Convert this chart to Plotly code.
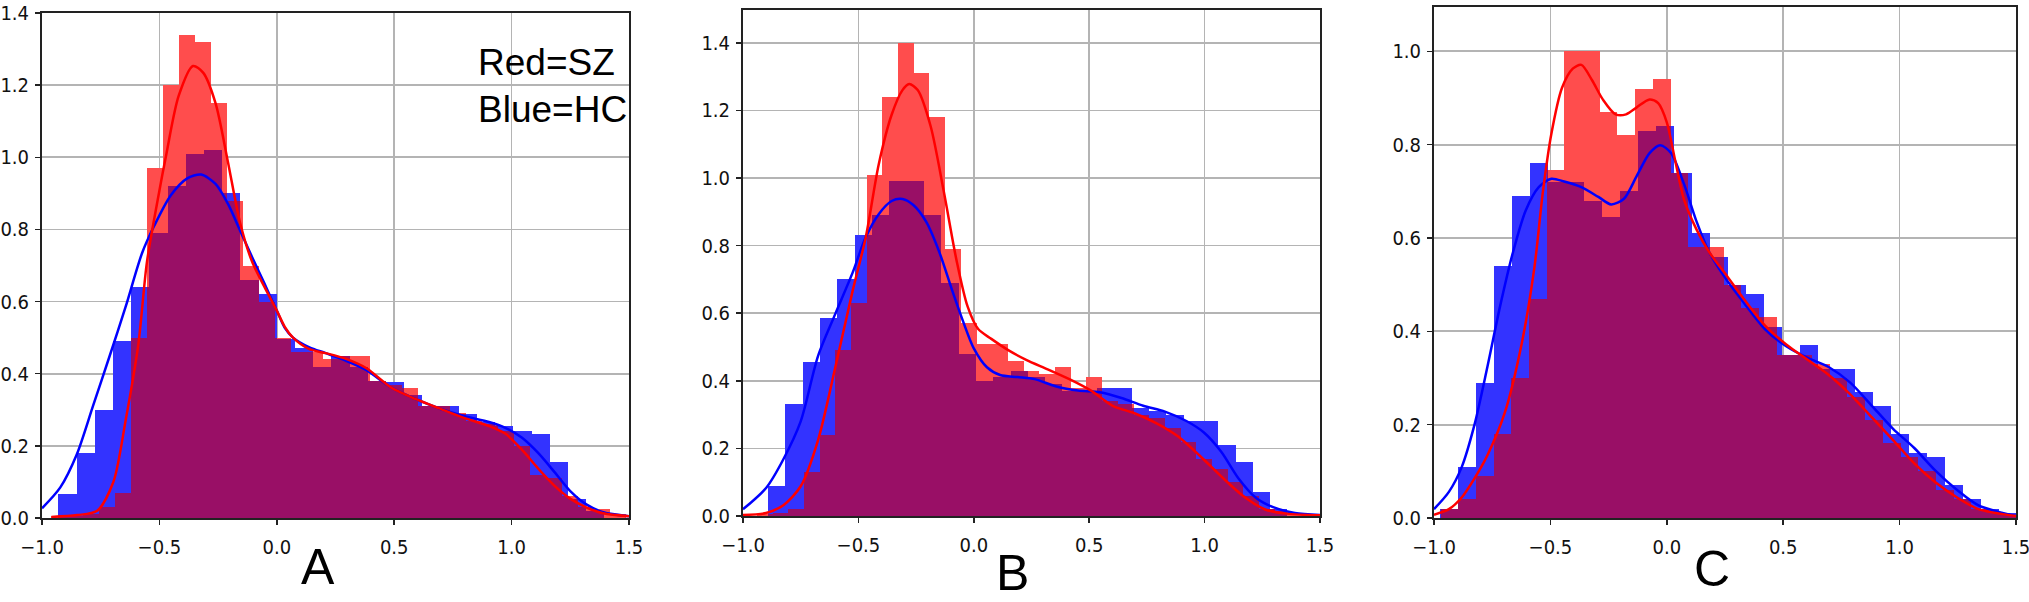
import plotly.graph_objects as go

# ---------------- DATA ----------------
# Panel A
A_blue_edge0, A_blue_binw = -0.93, 0.0775
A_blue_hist = [0.066, 0.18, 0.30, 0.49, 0.64, 0.79, 0.92, 1.01, 1.02, 0.90,
               0.66, 0.62, 0.495, 0.47, 0.42, 0.45, 0.42, 0.38, 0.377, 0.34,
               0.31, 0.31, 0.287, 0.266, 0.255, 0.24, 0.234, 0.154, 0.053, 0.02]
A_red_edge0, A_red_binw = -0.961, 0.068
A_red_hist = [0.005, 0.005, 0.01, 0.03, 0.07, 0.50, 0.97, 1.20, 1.34, 1.32,
              1.15, 0.88, 0.70, 0.60, 0.50, 0.46, 0.46, 0.44, 0.45, 0.45,
              0.38, 0.37, 0.36, 0.31, 0.31, 0.29, 0.27, 0.26, 0.24, 0.20,
              0.12, 0.11, 0.06, 0.03, 0.025, 0.01]
A_kde_blue_x = [-1.0, -0.922, -0.852, -0.783, -0.713, -0.644, -0.574, -0.522, -0.452, -0.383,
                -0.322, -0.261, -0.209, -0.157, -0.105, -0.052, 0.0, 0.034, 0.069, 0.139,
                0.208, 0.295, 0.382, 0.486, 0.59, 0.695, 0.8, 0.904, 0.973, 1.043,
                1.112, 1.182, 1.251, 1.32, 1.39, 1.5]
A_kde_blue_y = [0.027, 0.085, 0.176, 0.31, 0.447, 0.585, 0.734, 0.81, 0.894, 0.941,
                0.952, 0.926, 0.872, 0.798, 0.723, 0.649, 0.575, 0.527, 0.5, 0.473,
                0.457, 0.436, 0.41, 0.362, 0.33, 0.303, 0.282, 0.266, 0.25, 0.223,
                0.181, 0.128, 0.074, 0.037, 0.016, 0.005]
A_kde_red_x = [-0.96, -0.85, -0.765, -0.696, -0.644, -0.59, -0.553, -0.505, -0.47, -0.418,
               -0.357, -0.313, -0.261, -0.209, -0.157, -0.105, -0.052, 0.0, 0.034, 0.069,
               0.139, 0.208, 0.295, 0.382, 0.486, 0.59, 0.695, 0.8, 0.904, 0.973,
               1.043, 1.112, 1.182, 1.251, 1.32, 1.39, 1.5]
A_kde_red_y = [0.003, 0.008, 0.02, 0.10, 0.27, 0.48, 0.71, 0.89, 1.01, 1.17,
               1.253, 1.234, 1.15, 0.99, 0.82, 0.71, 0.64, 0.575, 0.53, 0.50,
               0.468, 0.457, 0.441, 0.415, 0.362, 0.33, 0.303, 0.277, 0.255, 0.234,
               0.19, 0.138, 0.09, 0.053, 0.029, 0.013, 0.005]

# Panel B
B_blue_edge0, B_blue_binw = -0.891, 0.075
B_blue_hist = [0.09, 0.33, 0.456, 0.587, 0.70, 0.83, 0.89, 0.99, 0.99, 0.89,
               0.69, 0.48, 0.40, 0.41, 0.43, 0.41, 0.39, 0.37, 0.37, 0.38,
               0.38, 0.32, 0.31, 0.30, 0.28, 0.28, 0.21, 0.16, 0.07, 0.02]
B_red_edge0, B_red_binw = -0.94, 0.068
B_red_hist = [0.005, 0.01, 0.02, 0.13, 0.24, 0.49, 0.63, 1.01, 1.24, 1.40,
              1.31, 1.18, 0.79, 0.57, 0.51, 0.51, 0.46, 0.43, 0.42, 0.44,
              0.38, 0.41, 0.34, 0.33, 0.30, 0.29, 0.26, 0.22, 0.17, 0.14,
              0.10, 0.06, 0.02, 0.015, 0.005]
B_kde_blue_x = [-1.0, -0.9, -0.825, -0.75, -0.675, -0.6, -0.525, -0.468, -0.412, -0.356,
                -0.309, -0.262, -0.206, -0.149, -0.093, -0.046, 0.0, 0.057, 0.114, 0.189,
                0.264, 0.358, 0.452, 0.546, 0.64, 0.734, 0.828, 0.921, 0.997, 1.072,
                1.147, 1.222, 1.297, 1.391, 1.5]
B_kde_blue_y = [0.02, 0.083, 0.168, 0.28, 0.473, 0.598, 0.72, 0.825, 0.893, 0.932,
                0.938, 0.92, 0.87, 0.78, 0.666, 0.575, 0.496, 0.44, 0.417, 0.411,
                0.405, 0.383, 0.371, 0.366, 0.349, 0.326, 0.309, 0.281, 0.247, 0.19,
                0.111, 0.054, 0.026, 0.009, 0.003]
B_kde_red_x = [-1.0, -0.9, -0.825, -0.75, -0.675, -0.6, -0.525, -0.468, -0.412, -0.356,
               -0.309, -0.28, -0.243, -0.187, -0.13, -0.075, -0.027, 0.019, 0.076, 0.151,
               0.227, 0.32, 0.414, 0.508, 0.602, 0.696, 0.79, 0.884, 0.978, 1.072,
               1.166, 1.26, 1.354, 1.5]
B_kde_red_y = [0.003, 0.009, 0.032, 0.088, 0.224, 0.44, 0.666, 0.825, 1.04, 1.187,
               1.26, 1.278, 1.26, 1.153, 0.96, 0.757, 0.62, 0.553, 0.524, 0.49,
               0.462, 0.434, 0.405, 0.371, 0.326, 0.304, 0.275, 0.236, 0.179, 0.117,
               0.06, 0.02, 0.007, 0.002]

# Panel C
C_blue_edge0, C_blue_binw = -0.976, 0.0775
C_blue_hist = [0.02, 0.11, 0.29, 0.54, 0.69, 0.76, 0.72, 0.72, 0.68, 0.645,
               0.70, 0.83, 0.84, 0.74, 0.61, 0.56, 0.50, 0.48, 0.41, 0.35,
               0.37, 0.32, 0.32, 0.27, 0.24, 0.18, 0.14, 0.13, 0.07, 0.04,
               0.02, 0.01]
C_red_edge0, C_red_binw = -0.972, 0.076
C_red_hist = [0.02, 0.04, 0.09, 0.18, 0.30, 0.47, 0.745, 1.00, 1.00, 0.87,
              0.82, 0.92, 0.94, 0.74, 0.58, 0.58, 0.50, 0.45, 0.43, 0.35,
              0.35, 0.33, 0.30, 0.26, 0.21, 0.16, 0.13, 0.10, 0.06, 0.04,
              0.02, 0.01, 0.005]
C_kde_blue_x = [-1.0, -0.936, -0.881, -0.826, -0.771, -0.716, -0.661, -0.606, -0.55, -0.496,
                -0.441, -0.367, -0.294, -0.239, -0.184, -0.129, -0.074, -0.028, 0.018, 0.073,
                0.128, 0.183, 0.256, 0.33, 0.421, 0.513, 0.605, 0.697, 0.788, 0.88,
                0.972, 1.063, 1.155, 1.247, 1.339, 1.5]
C_kde_blue_y = [0.019, 0.056, 0.109, 0.2, 0.323, 0.454, 0.569, 0.659, 0.709, 0.727,
                0.721, 0.709, 0.688, 0.672, 0.684, 0.733, 0.782, 0.799, 0.782, 0.717,
                0.635, 0.569, 0.511, 0.462, 0.405, 0.368, 0.343, 0.323, 0.29, 0.241,
                0.191, 0.15, 0.101, 0.06, 0.027, 0.004]
C_kde_red_x = [-1.0, -0.936, -0.881, -0.826, -0.771, -0.697, -0.624, -0.569, -0.532, -0.496,
               -0.45, -0.404, -0.367, -0.321, -0.275, -0.22, -0.175, -0.129, -0.074, -0.037,
               0.0, 0.036, 0.073, 0.128, 0.183, 0.256, 0.33, 0.421, 0.513, 0.605,
               0.697, 0.788, 0.88, 0.972, 1.063, 1.155, 1.247, 1.339, 1.5]
C_kde_red_y = [0.007, 0.019, 0.044, 0.085, 0.134, 0.224, 0.372, 0.536, 0.70, 0.823,
               0.922, 0.963, 0.971, 0.938, 0.897, 0.865, 0.865, 0.88, 0.897, 0.889,
               0.848, 0.766, 0.684, 0.618, 0.569, 0.52, 0.47, 0.413, 0.372, 0.339,
               0.306, 0.265, 0.216, 0.167, 0.117, 0.076, 0.044, 0.019, 0.004]

panel_letters = ["A", "B", "C"]
y_max = [1.4, 1.497, 1.095]
y_ticks = [[0.0, 0.2, 0.4, 0.6, 0.8, 1.0, 1.2, 1.4],
           [0.0, 0.2, 0.4, 0.6, 0.8, 1.0, 1.2, 1.4],
           [0.0, 0.2, 0.4, 0.6, 0.8, 1.0]]
x_ticks = [-1.0, -0.5, 0.0, 0.5, 1.0, 1.5]
legend_lines = ["Red=SZ", "Blue=HC"]

# ---------------- STYLE ----------------
W, H = 2029, 602
BLUE_BAR = "#3333FF"
RED_BAR = "#FF4D4D"
OVERLAP = "#990F66"
BLUE_LINE = "#0000FF"
RED_LINE = "#FF0000"
TICK_FONT = dict(family="DejaVu Sans Condensed, DejaVu Sans", size=20, color="#111")

# panel pixel boxes (left, right, top, bottom)
boxes = [(42, 629, 13, 518), (743, 1320, 10, 516), (1434, 2016, 7, 518)]
letter_pos = [(318, 567), (1012, 573), (1712, 569)]
legend_pos = [(476, 63), (476, 110)]

panels = [
    (A_blue_edge0, A_blue_binw, A_blue_hist, A_red_edge0, A_red_binw, A_red_hist,
     A_kde_blue_x, A_kde_blue_y, A_kde_red_x, A_kde_red_y),
    (B_blue_edge0, B_blue_binw, B_blue_hist, B_red_edge0, B_red_binw, B_red_hist,
     B_kde_blue_x, B_kde_blue_y, B_kde_red_x, B_kde_red_y),
    (C_blue_edge0, C_blue_binw, C_blue_hist, C_red_edge0, C_red_binw, C_red_hist,
     C_kde_blue_x, C_kde_blue_y, C_kde_red_x, C_kde_red_y),
]


def hist_bar(edge0, w, hist, color, xa, ya):
    n = len(hist)
    centers = [edge0 + w * (i + 0.5) for i in range(n)]
    return go.Bar(x=centers, y=hist, width=[w] * n, marker=dict(color=color, line=dict(width=0)),
                  xaxis=xa, yaxis=ya, hoverinfo="skip", showlegend=False)


def step_value(edge0, w, hist, x):
    i = int((x - edge0) // w)
    if 0 <= i < len(hist):
        return hist[i]
    return 0.0


def overlap_bar(b0, bw, bh, r0, rw, rh, xa, ya):
    edges = sorted(set([round(b0 + bw * i, 6) for i in range(len(bh) + 1)] +
                       [round(r0 + rw * i, 6) for i in range(len(rh) + 1)]))
    xs, ys, ws = [], [], []
    for a, b in zip(edges[:-1], edges[1:]):
        m = 0.5 * (a + b)
        v = min(step_value(b0, bw, bh, m), step_value(r0, rw, rh, m))
        if v > 0:
            xs.append(m)
            ys.append(v)
            ws.append(b - a)
    return go.Bar(x=xs, y=ys, width=ws, marker=dict(color=OVERLAP, line=dict(width=0)),
                  xaxis=xa, yaxis=ya, hoverinfo="skip", showlegend=False)


fig = go.Figure()
layout = dict(width=W, height=H, margin=dict(l=0, r=0, t=0, b=0, autoexpand=False),
              paper_bgcolor="white", plot_bgcolor="white", barmode="overlay",
              showlegend=False, bargap=0)

annotations = []
for k, (p, box) in enumerate(zip(panels, boxes)):
    sfx = "" if k == 0 else str(k + 1)
    xa, ya = "x" + sfx, "y" + sfx
    b0, bw, bh, r0, rw, rh, kbx, kby, krx, kry = p
    fig.add_trace(hist_bar(b0, bw, bh, BLUE_BAR, xa, ya))
    fig.add_trace(hist_bar(r0, rw, rh, RED_BAR, xa, ya))
    fig.add_trace(overlap_bar(b0, bw, bh, r0, rw, rh, xa, ya))
    fig.add_trace(go.Scatter(x=kbx, y=kby, mode="lines", xaxis=xa, yaxis=ya,
                             line=dict(color=BLUE_LINE, width=2.5, shape="spline", smoothing=0.8),
                             hoverinfo="skip", showlegend=False))
    fig.add_trace(go.Scatter(x=krx, y=kry, mode="lines", xaxis=xa, yaxis=ya,
                             line=dict(color=RED_LINE, width=2.5, shape="spline", smoothing=0.8),
                             hoverinfo="skip", showlegend=False))
    l, r, t, b = box
    common = dict(showgrid=True, gridcolor="#b4b4b4", gridwidth=1.7, showline=True,
                  linecolor="#222", linewidth=2, mirror=True, ticks="outside", ticklen=5,
                  tickcolor="#222", tickwidth=1.5, tickfont=TICK_FONT, zeroline=False,
                  layer="above traces", fixedrange=True, automargin=False,
                  ticklabeloverflow="allow")
    layout["xaxis" + sfx] = dict(common, domain=[l / W, r / W], range=[-1.0, 1.5],
                                 tickvals=x_ticks, ticktext=[f"{v:.1f}".replace("-", "\u2212") for v in x_ticks],
                                 anchor=ya, ticklabelstandoff=5)
    layout["yaxis" + sfx] = dict(common, domain=[1 - b / H, 1 - t / H], range=[0, y_max[k]],
                                 tickvals=y_ticks[k], ticktext=[f"{v:.1f}" for v in y_ticks[k]],
                                 anchor=xa, ticklabelstandoff=2)
    lx, ly = letter_pos[k]
    annotations.append(dict(text=panel_letters[k], xref="paper", yref="paper",
                            x=lx / W, y=1 - ly / H, xanchor="center", yanchor="middle",
                            showarrow=False,
                            font=dict(family="Liberation Sans, Arial", size=50, color="black")))

for txt, (lx, ly) in zip(legend_lines, legend_pos):
    annotations.append(dict(text=txt, xref="paper", yref="paper", x=lx / W, y=1 - ly / H,
                            xanchor="left", yanchor="middle", showarrow=False,
                            font=dict(family="Liberation Sans, Arial", size=37, color="black")))
layout["annotations"] = annotations
fig.update_layout(**layout)
fig.write_html("out.html", config={"displayModeBar": False, "staticPlot": True},
               post_script="document.body.style.margin='0px';")
